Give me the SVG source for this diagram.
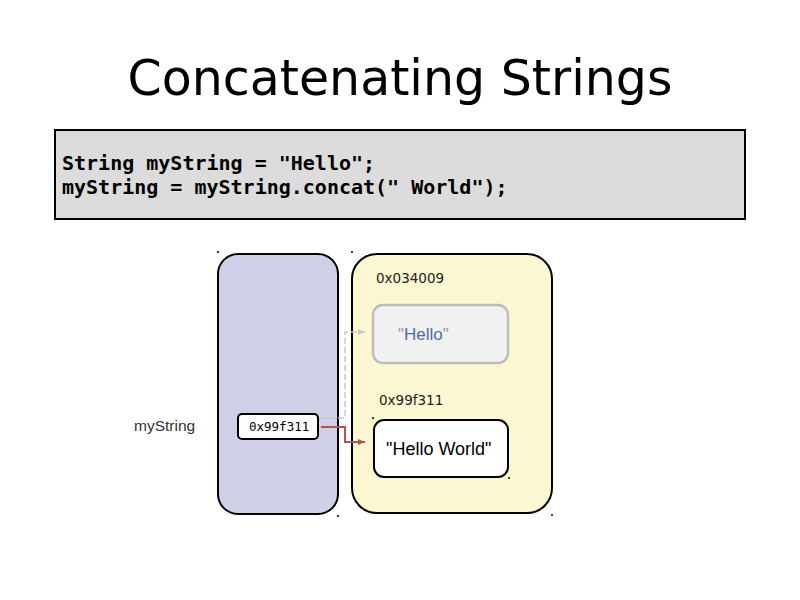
<svg xmlns="http://www.w3.org/2000/svg" width="800" height="600" viewBox="0 0 800 600">
<defs>
<style>
.sans{font-family:"Liberation Sans",Arial,sans-serif}
.dv{font-family:"DejaVu Sans",sans-serif}
.mono{font-family:"DejaVu Sans Mono","Liberation Mono",monospace}
.panel{stroke:#000;stroke-width:2}
.dot{fill:#000}
</style>
<marker id="ahRed" markerWidth="8" markerHeight="8" refX="7" refY="4" orient="auto" markerUnits="userSpaceOnUse"><path d="M0,1 L7,4 L0,7 Z" fill="#b25454"/></marker>
<marker id="ahGrey" markerWidth="8" markerHeight="8" refX="7" refY="4" orient="auto" markerUnits="userSpaceOnUse"><path d="M0,1 L7,4 L0,7 Z" fill="#d2c4c0"/></marker>
</defs>
<rect width="800" height="600" fill="#fff"/>
<text x="400" y="95" text-anchor="middle" class="dv" font-size="49" fill="#000">Concatenating Strings</text>
<g id="code">
<rect x="55" y="130" width="690" height="89" fill="#dcdcdc" stroke="#000" stroke-width="2"/>
<text x="62" y="170" class="mono" font-size="20" font-weight="bold" fill="#000">String myString = "Hello";</text>
<text x="62" y="194" class="mono" font-size="20" font-weight="bold" fill="#000">myString = myString.concat(" World");</text>
</g>
<g id="stack">
<rect x="218" y="254" width="120" height="260" rx="20" fill="#cfcfe8" class="panel"/>
<circle cx="218" cy="252" r="1" class="dot"/><circle cx="338" cy="516" r="1" class="dot"/>
</g>
<g id="heap">
<rect x="352" y="254" width="200" height="259" rx="25" fill="#fbf7d0" class="panel"/>
<circle cx="352" cy="252" r="1" class="dot"/><circle cx="552" cy="515" r="1" class="dot"/>
<text x="376" y="283" class="dv" font-size="13.5" fill="#222">0x034009</text>
<text x="379" y="405" class="dv" font-size="13.5" fill="#222">0x99f311</text>
</g>
<g id="hello">
<rect x="373" y="305" width="135" height="58" rx="10" fill="#f1f1f1" stroke="#bdbdbd" stroke-width="2.5"/>
<text x="398" y="340" class="sans" font-size="17" fill="#4a6fa5"><tspan fill="#999">"</tspan>Hello<tspan fill="#999">"</tspan></text>
</g>
<g id="helloWorld">
<rect x="374" y="420" width="134" height="57" rx="10" fill="#fff" stroke="#000" stroke-width="2"/>
<circle cx="373" cy="418" r="1" class="dot"/><circle cx="509" cy="478" r="1" class="dot"/>
<text x="386" y="455" class="sans" font-size="18" fill="#000">"Hello World"</text>
</g>
<g id="myString">
<text x="134" y="431" class="sans" font-size="15.5" fill="#333">myString</text>
<rect x="238" y="414" width="80" height="25" rx="4" fill="#fff" stroke="#000" stroke-width="2"/>
<text x="249" y="431" class="mono" font-size="12.5" fill="#000">0x99f311</text>
</g>
<g id="connectors" fill="none">
<path d="M320,418 H345 V332 H365" stroke="#d2c4c0" stroke-width="1.5" stroke-dasharray="6,3" marker-end="url(#ahGrey)"/>
<path d="M321,427 H345 V442 H365" stroke="#b25454" stroke-width="2" marker-end="url(#ahRed)"/>
</g>
</svg>
